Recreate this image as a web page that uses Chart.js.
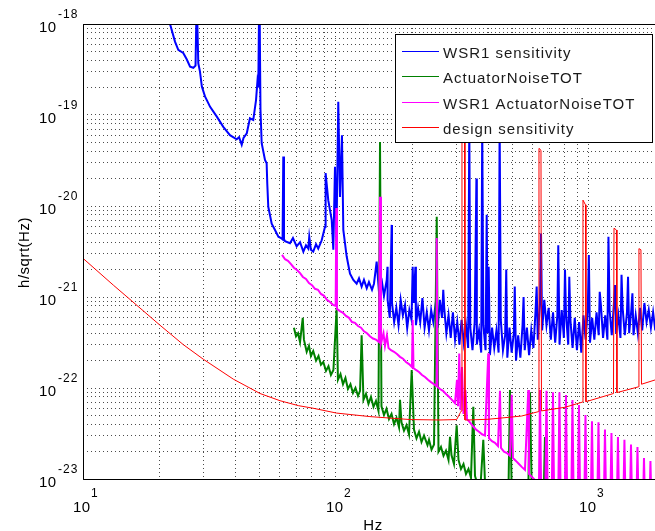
<!DOCTYPE html>
<html>
<head>
<meta charset="utf-8">
<title>WSR1 sensitivity</title>
<script src="https://cdn.jsdelivr.net/npm/chart.js@4.4.1/dist/chart.umd.min.js"></script>
<style>
  html, body { margin: 0; padding: 0; background: #fff; overflow: hidden; }
  canvas { display: block; }
</style>
</head>
<body>
<canvas id="asdChart" width="655" height="531"></canvas>
<script>
// Series names, colours and line widths (legend order)
const seriesNames = ['WSR1 sensitivity', 'ActuatorNoiseTOT', 'WSR1 ActuatorNoiseTOT', 'design sensitivity'];
const seriesColors = ['#0000ff', '#008000', '#ff00ff', '#ff0000'];
const seriesWidths = [2, 2, 2, 1];

// WSR1 sensitivity, h/sqrt(Hz)
const wsrHz = [
  21.5, 23.1, 23.8, 24.9, 25.7, 26.5, 27.3, 27.85, 28.15, 28.56,
  29.0, 29.5, 30.35, 31.8, 33.8, 35.85, 38.1, 40.5, 41.4, 42.4,
  43.1, 44.4, 45.7, 47.1, 48.3, 48.9, 49.3, 49.8, 50.3, 50.85,
  52.4, 53.2, 53.5, 54.0, 55.7, 57.4, 59.2, 60.6, 61.5, 61.9,
  62.3, 62.9, 65.8, 67.6, 69.9, 72.1, 74.3, 76.1, 77.7, 78.4,
  79.6, 81.3, 83.4, 85.1, 87.8, 90.5, 91.0, 93.2, 96.2, 97.6,
  99.1, 100.4, 102.1, 103.7, 105.6, 106.9, 110.2, 113.6, 117.1, 120.7,
  123.3, 126.3, 129.0, 132.3, 135.0, 138.8, 141.3, 144.8, 147.9, 152.0,
  154.8, 158.7, 159.8,
  160, 163.2, 166.0, 166.5, 169.8, 173.2, 176.7, 180.2, 183.8, 187.5,
  191.2, 195.0, 198.9, 201.0, 202.9, 206.0, 207.0, 211.1, 215.3, 219.6,
  224.0, 228.5, 233.1, 237.8, 242.5, 247.4, 252.3, 257.4, 262.5, 265.5,
  267.8, 273.1, 278.6, 284.2, 289.8, 295.6, 301.6, 307.6, 313.7, 320.0,
  326.4, 333.0, 336.5, 339.6, 346.4, 353.4, 359.0, 360.4, 367.6, 375.0,
  378.5, 382.5, 390.2, 394.2, 398.0, 401.5, 405.9, 414.0, 422.3, 430.8,
  439.4, 443.5, 448.2, 457.1, 466.3, 471, 475.6, 485.1, 494.8, 504.7,
  509, 514.8, 525.1, 535.6, 546.3, 551.5, 557.2, 568.4, 579.8, 591.4,
  603.2, 615.2, 621.3, 627.5, 640.1, 646.5, 652.9, 666.0, 679.3, 692.9,
  706.7, 720.9, 735.3, 750.0, 756.3, 765.0, 780.3, 795.9, 803.9, 811.8,
  828.1, 836, 844.6, 861.5, 878.8, 896.3, 914.3, 932.5, 951.2, 970.2,
  989.6, 999, 1009.4, 1029.6, 1050.2, 1071.2, 1092.6, 1103, 1114.5, 1136.8,
  1159.5, 1182.7, 1194, 1206.3, 1230.5, 1255.1, 1268, 1280.2, 1305.8, 1331.9,
  1345, 1358.5, 1385.7, 1413.4, 1427, 1441.7, 1470.5, 1485, 1500.0, 1530.0,
  1560.6, 1591.8, 1623.6, 1656.1, 1689.2, 1723.0, 1757.5, 1792.6, 1828.5, 1865];
const wsrAsd = [
  1.3e-18, 6.4e-19, 5.2e-19, 4.8e-19, 4.1e-19, 3.4e-19, 3.3e-19, 3.5e-19, 2e-18, 3.7e-19,
  3.0e-19, 2.05e-19, 1.6e-19, 1.23e-19, 9.6e-20, 7.4e-20, 6.0e-20, 5.4e-20, 5.7e-20, 4.7e-20,
  5.6e-20, 6.3e-20, 9.2e-20, 8.8e-20, 1.46e-19, 2.3e-19, 2.0e-19, 3e-18, 1.14e-19, 4.9e-20,
  3.2e-20, 2.95e-20, 1.78e-20, 9.8e-21, 6.4e-21, 5.45e-21, 4.6e-21, 4.45e-21, 4.3e-21, 3.5e-20,
  4.3e-21, 4.1e-21, 3.9e-21, 4.45e-21, 3.6e-21, 4.0e-21, 3.15e-21, 3.7e-21, 3.4e-21, 4.6e-21,
  3.3e-21, 3.15e-21, 3.8e-21, 3.4e-21, 4.2e-21, 5.9e-21, 2.3e-20, 1.16e-20, 7.0e-21, 3.3e-21,
  2.7e-20, 4.2e-21, 1.4e-19, 1.26e-20, 6.0e-20, 5.45e-21, 2.8e-21, 1.8e-21, 1.54e-21, 1.4e-21,
  1.6e-21, 1.3e-21, 1.54e-21, 1.25e-21, 1.46e-21, 1.2e-21, 1.4e-21, 2.45e-21, 1.14e-21, 1.46e-21,
  1.03e-21, 1.54e-21, 2.15e-21,
  9.3e-22, 5.9e-22, 6.2e-21, 8.6e-22, 5.3e-22, 7.6e-22, 4.9e-22, 9.3e-22, 6.3e-22, 8.2e-22,
  4.56e-22, 7.2e-22, 5.6e-22, 2.15e-21, 8.6e-22, 2.15e-21, 4.9e-22, 7.6e-22, 5.3e-22, 9.75e-22,
  4.6e-22, 6.8e-22, 4.3e-22, 7.2e-22, 5.3e-22, 8.2e-22, 4.6e-22, 9.3e-22, 5.9e-22, 1.2e-21,
  7.6e-22, 4.0e-22, 6.3e-22, 3.55e-22, 6.8e-22, 3.4e-22, 5.3e-22, 3.0e-22, 5.6e-22, 3.15e-22,
  4.9e-22, 2.75e-22, 8e-20, 4.6e-22, 2.6e-22, 5.3e-22, 2.0e-20, 3.0e-22, 4.3e-22, 2.45e-22,
  8e-20, 4.9e-22, 2.6e-22, 8.0e-21, 4.0e-22, 2.15e-21, 2.3e-22, 4.6e-22, 2.75e-22, 4.3e-22,
  2.45e-22, 8e-20, 5.6e-22, 2.6e-22, 3.8e-22, 2.0e-21, 2.15e-22, 4.6e-22, 2.45e-22, 4.0e-22,
  1.3e-21, 2.0e-22, 3.8e-22, 2.15e-22, 4.9e-22, 1.0e-21, 2.6e-22, 4.6e-22, 2.3e-22, 4.3e-22,
  2.75e-22, 7.2e-22, 1.3e-21, 3.4e-22, 8.6e-22, 5.0e-21, 4.3e-22, 9.3e-22, 4.9e-22, 7.6e-22,
  3.4e-22, 6.8e-22, 3.15e-22, 6.3e-22, 3.7e-21, 3.0e-22, 7.2e-22, 3.55e-22, 2.0e-21, 6.3e-22,
  3.0e-22, 1.67e-21, 5.6e-22, 2.75e-22, 5.9e-22, 2.6e-22, 5.3e-22, 2.45e-22, 6.3e-22, 3.4e-22,
  7.6e-22, 2.9e-21, 3.15e-22, 5.9e-22, 3.4e-22, 6.8e-22, 3.8e-22, 1.14e-21, 8.2e-22, 3.55e-22,
  6.3e-22, 3.4e-22, 4.6e-21, 7.2e-22, 3.8e-22, 8.6e-22, 1.35e-21, 4.0e-22, 6.3e-22, 3.55e-22,
  1.75e-21, 7.6e-22, 3.8e-22, 6.8e-22, 1.67e-21, 4.0e-22, 7.2e-22, 1.1e-21, 3.8e-22, 6.3e-22,
  4.0e-22, 7.6e-22, 4.3e-22, 8.6e-22, 5.3e-22, 7.2e-22, 4.6e-22, 6.8e-22, 4.3e-22, 5.9e-22];

// ActuatorNoiseTOT
const actHz = [68.2, 69.5, 70.8, 72.1, 73.9, 74.7, 76.6, 78.2, 79.6, 81.3, 83.4, 85.3, 87.2, 89.1, 91.3, 93.4, 95.5,
  97.7, 100.6, 101.8, 104.2, 106.6, 109.0, 111.5, 114.1, 116.7, 119.4, 122.2, 124.5, 126.3, 128.4, 131.4, 134.4,
  137.5, 140.7, 143.9, 147.2, 149.3, 151.3, 154.8, 158.4, 162.0, 165.8, 169.6, 173.4, 177.5, 179.1, 181.5, 185.7,
  190.0, 194.4, 199.2, 203.4, 208.1, 212.9, 217.8, 222.8, 230.0, 233.2, 238.6, 244.1, 250.2, 254.2, 260.0, 266.1,
  272.2, 278.5, 282.3, 286.1, 292.7, 300.0, 305.0, 312.0, 319.2, 326.5, 334.0, 341.7, 349.0, 354.4, 362.5, 370.9,
  382.2, 391.7, 479.7, 487.2, 496.2, 574.1, 584.7, 595.4, 660.9, 670.0, 679.3];
const actAsd = [4.6e-22, 3.7e-22, 4.0e-22, 3.2e-22, 5.9e-22, 3.4e-22, 2.5e-22, 2.9e-22, 2.25e-22, 2.55e-22, 2.0e-22,
  2.25e-22, 1.8e-22, 1.93e-22, 1.54e-22, 1.74e-22, 1.39e-22, 1.58e-22, 7.4e-22, 1.23e-22, 1.42e-22, 1.1e-22,
  1.29e-22, 9.75e-23, 1.1e-22, 8.8e-23, 1.0e-22, 8.2e-23, 9.3e-23, 3.8e-22, 7.4e-23, 8.6e-23, 6.7e-23, 8.0e-23,
  6.2e-23, 7.2e-23, 5.6e-23, 5.05e-20, 6.3e-23, 5.05e-23, 5.9e-23, 4.56e-23, 5.2e-23, 4.0e-23, 4.7e-23, 3.7e-23,
  7.4e-23, 4.2e-23, 3.4e-23, 3.9e-23, 3.1e-23, 1.58e-22, 3.5e-23, 2.8e-23, 3.3e-23, 2.55e-23, 3.0e-23, 2.36e-23,
  2.7e-23, 2.1e-23, 2.4e-23, 7.6e-21, 2.0e-23, 2.25e-23, 1.8e-23, 2.05e-23, 1.62e-23, 2.9e-23, 1.83e-23, 1.46e-23,
  3.9e-23, 1.62e-23, 1.29e-23, 1.46e-23, 1.14e-23, 1.29e-23, 1.03e-23, 6.2e-23, 1.08e-23, 8.8e-24, 6.7e-24,
  2.7e-23, 5e-24, 5e-24, 9.5e-23, 5e-24, 5e-24, 9.0e-23, 5e-24, 5e-24, 2.9e-23, 5e-24];

// WSR1 ActuatorNoiseTOT
const wsrActHz = [61.2, 62.9, 64.6, 66.4, 68.2, 70.1, 72.1, 74.0, 76.1, 78.2, 80.4, 82.6, 84.9, 87.2, 89.7, 92.1,
  94.7, 97.3, 99.7, 100.3, 100.9, 103.7, 106.6, 109.5, 112.6, 115.7, 118.9, 122.2, 125.6, 129.0, 132.6, 136.2,
  140.0, 143.9, 147.9, 149.3, 150.6, 154.1, 156.2, 159.0, 161.3, 165.0, 169.6, 174.2, 179.1, 184.0, 189.1, 194.4,
  199.7, 201.0, 202.5, 207.1, 212.9, 218.8, 224.8, 231.0, 237.4, 244.1, 249.2, 250.1, 251.9, 257.7, 264.8, 272.2,
  279.7, 287.4, 295.4, 300.8, 303.5, 307.1, 310.5, 314.8, 319.2, 325.0, 329.5, 338.6, 348.0, 357.6, 367.5, 377.7,
  388.1, 399.9, 402.5, 413.6, 425.1, 436.9, 444.9, 449.0, 461.4, 474.2, 487.2, 495.0, 500.7, 514.5, 528.7, 543.4,
  558.5, 575.6, 579.2, 595.3, 611.8,
  631.7, 640.4, 649.2, 670.1, 679.3, 688.6, 710.8, 720.5, 730.4, 754.0, 764.3, 774.8, 800.3, 811.3, 822.4,
  849.0, 860.6, 872.4, 900.7, 913.0, 925.5, 955.6, 968.7, 982.0, 1013.9, 1027.8, 1041.9, 1075.6, 1090.3, 1105.2,
  1141.2, 1156.8, 1172.7, 1210.6, 1227.2, 1244.0, 1284, 1302, 1320, 1362, 1381, 1400, 1446, 1466, 1486,
  1534, 1555, 1576, 1628, 1650, 1673, 1726, 1750, 1774];
const wsrActAsd = [2.9e-21, 2.6e-21, 2.5e-21, 2.3e-21, 2.1e-21, 1.98e-21, 1.83e-21, 1.66e-21, 1.58e-21, 1.42e-21,
  1.35e-21, 1.23e-21, 1.2e-21, 1.08e-21, 1.03e-21, 9.3e-22, 8.8e-22, 8.2e-22, 8.0e-22, 9.5e-21, 7.4e-22, 7.0e-22,
  6.7e-22, 6.2e-22, 5.9e-22, 5.3e-22, 5.2e-22, 4.8e-22, 4.6e-22, 4.2e-22, 4.0e-22, 3.7e-22, 3.5e-22, 3.4e-22,
  3.2e-22, 1.26e-20, 3.1e-22, 4.0e-22, 2.9e-22, 3.8e-22, 2.75e-22, 2.6e-22, 2.5e-22, 2.36e-22, 2.2e-22, 2.1e-22,
  1.93e-22, 1.83e-22, 1.7e-22, 5.6e-22, 1.66e-22, 1.58e-22, 1.5e-22, 1.39e-22, 1.32e-22, 1.23e-22, 1.16e-22,
  1.1e-22, 1.05e-22, 4.45e-21, 1.03e-22, 9.75e-23, 9.3e-23, 8.6e-23, 8.0e-23, 7.4e-23, 6.8e-23, 1.23e-22, 6.3e-23,
  2.4e-22, 5.7e-23, 1.7e-22, 5.2e-23, 9.5e-23, 4.56e-23, 4.2e-23, 3.8e-23, 3.5e-23, 3.3e-23, 3.1e-23, 3.0e-23,
  2.4e-22, 2.8e-23, 2.6e-23, 2.5e-23, 2.3e-23, 9.3e-23, 2.2e-23, 2.0e-23, 1.93e-23, 1.8e-23, 8.4e-23, 1.7e-23,
  1.58e-23, 1.46e-23, 1.35e-23, 1.26e-23, 9.5e-23, 1.14e-23, 1.05e-23, 9.75e-24,
  3e-24, 9.5e-23, 3e-24, 3e-24, 9.3e-23, 3e-24, 3e-24, 9.0e-23, 3e-24, 3e-24, 9.0e-23, 3e-24, 3e-24, 8.4e-23, 3e-24,
  3e-24, 7.4e-23, 3e-24, 3e-24, 6.5e-23, 3e-24, 3e-24, 5.05e-23, 3e-24, 3e-24, 4.3e-23, 3e-24, 3e-24, 4.2e-23, 3e-24,
  3e-24, 3.5e-23, 3e-24, 3e-24, 3.2e-23, 3e-24, 3e-24, 2.9e-23, 3e-24, 3e-24, 2.7e-23, 3e-24, 3e-24, 2.4e-23, 3e-24,
  3e-24, 2.25e-23, 3e-24, 3e-24, 1.7e-23, 3e-24, 3e-24, 1.58e-23, 3e-24];

// design sensitivity
const designHz = [10, 13.18, 15.34, 20.15, 24.9, 29.9, 39.3, 50.1, 60.1, 71.0, 81.1, 100.6, 136.2, 196.1, 257.7,
  299.9, 310.5, 313.3, 314.8, 322.0, 323.5, 333.4, 398.9, 465.6, 542, 631.6, 634.5, 646.1, 649.1, 803.9, 942.6,
  947.0, 968.7, 973.0, 1250, 1256, 1284, 1290, 1569, 1576, 1605, 1613, 1824, 1900];
const designAsd = [2.66e-21, 1.35e-21, 9.4e-22, 4.9e-22, 3.0e-22, 2.07e-22, 1.25e-22, 8.7e-23, 7.25e-23, 6.4e-23,
  6.0e-23, 5.3e-23, 4.85e-23, 4.5e-23, 4.45e-23, 4.5e-23, 5.4e-23, 5.6e-23, 1e-19, 1e-19, 4.45e-23, 4.45e-23,
  4.53e-23, 4.72e-23, 4.92e-23, 5.5e-23, 4.3e-20, 4.1e-20, 5.6e-23, 6.14e-23, 7.0e-23, 1.16e-20, 1.03e-20, 7.07e-23,
  8.7e-23, 5.7e-21, 5.45e-21, 8.9e-23, 1.03e-22, 3.4e-21, 3.3e-21, 1.1e-22, 1.225e-22, 1.27e-22];

// Axis ranges, grid ticks and labelled decades
const xRange = [10, 1824];
const yRange = [1e-23, 1e-18];
const xGridHz = [10, 20, 30, 40, 50, 60, 70, 80, 90, 100, 200, 300, 400, 500, 600, 700, 800, 900, 1000];
const yGridDecades = [1e-23, 1e-22, 1e-21, 1e-20, 1e-19];
const yGridSteps = [1, 2, 3, 4, 5, 6, 7, 8, 9];
const xLabelExponents = [1, 2, 3];
const yLabelExponents = [-23, -22, -21, -20, -19, -18];
const xTitle = 'Hz';
const yTitle = 'h/sqrt(Hz)';

const yGridValues = [];
yGridDecades.forEach(d => yGridSteps.forEach(s => yGridValues.push(s * d)));
yGridValues.push(yRange[1]);

const FONT = '"Liberation Sans", Arial, Helvetica, sans-serif';

function makeSeries(hz, asd, i) {
  return {
    label: seriesNames[i],
    data: hz.map((f, k) => ({ x: f, y: asd[k] })),
    borderColor: seriesColors[i],
    backgroundColor: seriesColors[i],
    borderWidth: seriesWidths[i],
    pointRadius: 0,
    tension: 0,
    fill: false,
    order: 4 - i
  };
}

// Frame, tick labels, axis titles and the boxed legend
const frameAndLabels = {
  id: 'frameAndLabels',
  afterDraw(chart) {
    const { ctx, chartArea: area, scales: { x, y } } = chart;
    ctx.save();

    // axes box (right side is cut off in the original)
    ctx.strokeStyle = '#000';
    ctx.lineWidth = 1;
    ctx.setLineDash([]);
    ctx.beginPath();
    ctx.moveTo(area.right, area.top + 0.5);
    ctx.lineTo(area.left + 0.5, area.top + 0.5);
    ctx.lineTo(area.left + 0.5, area.bottom + 0.5);
    ctx.lineTo(area.right, area.bottom + 0.5);
    ctx.stroke();

    ctx.fillStyle = '#000';
    ctx.textAlign = 'left';
    ctx.textBaseline = 'alphabetic';

    // y tick labels 10^n
    yLabelExponents.forEach(e => {
      const py = y.getPixelForValue(Math.pow(10, e));
      ctx.font = '15px ' + FONT;
      ctx.letterSpacing = '0.5px';
      ctx.fillText('10', 39, py + 8);
      ctx.font = '12px ' + FONT;
      ctx.letterSpacing = '1px';
      ctx.fillText(String(e), 58, py - 6);
    });

    // x tick labels 10^n
    xLabelExponents.forEach(e => {
      const px = x.getPixelForValue(Math.pow(10, e));
      ctx.font = '15px ' + FONT;
      ctx.letterSpacing = '0.5px';
      ctx.fillText('10', px - 10, 512);
      ctx.font = '12px ' + FONT;
      ctx.letterSpacing = '1px';
      ctx.fillText(String(e), px + 8, 497);
    });

    // axis titles
    ctx.font = '15px ' + FONT;
    ctx.letterSpacing = '0.5px';
    ctx.textAlign = 'center';
    ctx.fillText(xTitle, 373, 530);
    ctx.save();
    ctx.translate(29, (area.top + area.bottom) / 2 + 1);
    ctx.rotate(-Math.PI / 2);
    ctx.fillText(yTitle, 0, 0);
    ctx.restore();

    // legend box
    const lx = 395.5, ly = 34.5, lw = 257, lh = 108;
    ctx.fillStyle = '#fff';
    ctx.fillRect(lx, ly, lw, lh);
    ctx.strokeStyle = '#000';
    ctx.lineWidth = 1;
    ctx.strokeRect(lx, ly, lw, lh);
    ctx.textAlign = 'left';
    ctx.font = '15px ' + FONT;
    ctx.letterSpacing = '1px';
    seriesNames.forEach((name, i) => {
      const rowY = Math.round(ly + 16.5 + i * 25.4) + 0.5;
      ctx.strokeStyle = seriesColors[i];
      ctx.beginPath();
      ctx.moveTo(402, rowY);
      ctx.lineTo(439, rowY);
      ctx.stroke();
      ctx.fillStyle = '#1a1a1a';
      ctx.fillText(name, 443, rowY + 6);
    });

    ctx.letterSpacing = '0px';
    ctx.restore();
  }
};

const gridStyle = { color: 'rgba(0,0,0,0.7)', lineWidth: 1, drawTicks: false };

new Chart(document.getElementById('asdChart'), {
  type: 'line',
  data: {
    datasets: [
      makeSeries(wsrHz, wsrAsd, 0),
      makeSeries(actHz, actAsd, 1),
      makeSeries(wsrActHz, wsrActAsd, 2),
      makeSeries(designHz, designAsd, 3)
    ]
  },
  options: {
    responsive: false,
    animation: false,
    devicePixelRatio: 1,
    layout: { padding: { left: 83, top: 24, right: 0, bottom: 52 } },
    plugins: {
      legend: { display: false },
      tooltip: { enabled: false }
    },
    scales: {
      x: {
        type: 'logarithmic',
        min: xRange[0],
        max: xRange[1],
        afterBuildTicks: scale => { scale.ticks = xGridHz.map(v => ({ value: v })); },
        ticks: { display: false },
        grid: gridStyle,
        border: { display: false, dash: [1, 3] }
      },
      y: {
        type: 'logarithmic',
        min: yRange[0],
        max: yRange[1],
        afterBuildTicks: scale => { scale.ticks = yGridValues.map(v => ({ value: v })); },
        ticks: { display: false },
        grid: gridStyle,
        border: { display: false, dash: [1, 3] }
      }
    }
  },
  plugins: [frameAndLabels]
});
</script>
</body>
</html>
